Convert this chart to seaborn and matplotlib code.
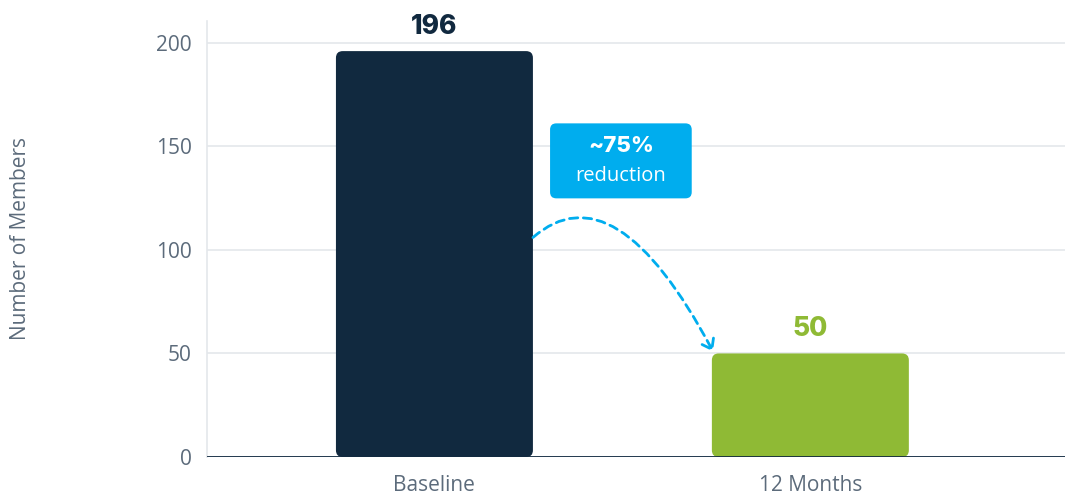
import matplotlib
matplotlib.use("Agg")
import matplotlib.pyplot as plt
import seaborn as sns
from matplotlib.patches import FancyBboxPatch
from matplotlib.transforms import Affine2D, ScaledTranslation

# ── Data ────────────────────────────────────────────────
categories = ["Baseline", "12 Months"]
members = [196, 50]
bar_colors = ["#11293f", "#8fba35"]
label_colors = ["#11293f", "#8fba35"]
y_ticks = [0, 50, 100, 150, 200]

NAVY = "#11293f"
CYAN = "#00adee"
GRID = "#e4e7eb"
TEXT = "#5c6b7b"
BOLD_FONT = ["Inter", "DejaVu Sans"]

sns.set_theme(style="white")
plt.rcParams["font.family"] = ["Open Sans", "DejaVu Sans"]

fig = plt.figure(figsize=(10.67, 4.97), dpi=100)
ax = fig.add_axes([0.194, 0.0805, 0.804, 0.8775])

sns.barplot(x=categories, y=members, hue=categories, palette=bar_colors,
            width=0.524, legend=False, ax=ax, saturation=1)

ax.set_xlim(-0.605, 1.677)
ax.set_ylim(0, 210.6)
ax.set_yticks(y_ticks)

# swap square bars for rounded ones
px_x = 376.0
px_y = 2.07
for patch in list(ax.patches):
    x0, y0 = patch.get_x(), patch.get_y()
    w, h = patch.get_width(), patch.get_height()
    fc = patch.get_facecolor()
    patch.remove()
    rb = FancyBboxPatch((x0, y0), w, h,
                        boxstyle="round,pad=0,rounding_size=0.018",
                        mutation_aspect=px_x / px_y,
                        facecolor=fc, edgecolor="none", zorder=3)
    ax.add_patch(rb)

# value labels
for i, v in enumerate(members):
    ax.annotate(str(v), xy=(i, v), xytext=(0, 8), textcoords="offset points",
                ha="center", va="bottom", fontsize=19, fontweight=800,
                family=BOLD_FONT, color=label_colors[i], zorder=5)

# grid and spines
ax.yaxis.grid(True, color=GRID, linewidth=1.2, zorder=0)
ax.set_axisbelow(True)
for s in ["top", "right", "bottom"]:
    ax.spines[s].set_visible(False)
ax.spines["left"].set_color(GRID)
ax.spines["left"].set_linewidth(1.2)
ax.axhline(0, color=NAVY, linewidth=2, zorder=4)

ax.tick_params(axis="both", length=0, labelsize=15, labelcolor=TEXT)
ax.tick_params(axis="y", pad=11)
ax.tick_params(axis="x", pad=13)
ax.set_ylabel("Number of Members", fontsize=15, color=TEXT, labelpad=0)
ax.yaxis.set_label_coords(-0.205, 0.5)
ax.set_xlabel("")

# reduction callout box (size in points, anchored in data coords)
box_tr = Affine2D().scale(fig.dpi / 72.0) + ScaledTranslation(0.496, 143, ax.transData)
box = FancyBboxPatch((-51, -27), 102, 54,
                     boxstyle="round,pad=0,rounding_size=4.5",
                     facecolor=CYAN, edgecolor="none", transform=box_tr, zorder=6)
ax.add_patch(box)
ax.annotate("~75%", xy=(0.496, 143), xytext=(0, 11), textcoords="offset points",
            ha="center", va="center", fontsize=16, fontweight=800,
            family=BOLD_FONT, color="white", zorder=7)
ax.annotate("reduction", xy=(0.496, 143), xytext=(0, -11), textcoords="offset points",
            ha="center", va="center", fontsize=14.5, color="white", zorder=7)

# dashed curved arrow from baseline bar to 12 months bar
ax.annotate("", xy=(0.741, 51), xytext=(0.262, 106),
            arrowprops=dict(arrowstyle="->,head_length=0.55,head_width=0.4",
                            connectionstyle="angle3,angleA=41,angleB=118",
                            color=CYAN, linewidth=2, linestyle=(0, (3, 2)),
                            shrinkA=0, shrinkB=0),
            zorder=6)

fig.savefig("out.png", dpi=100)
